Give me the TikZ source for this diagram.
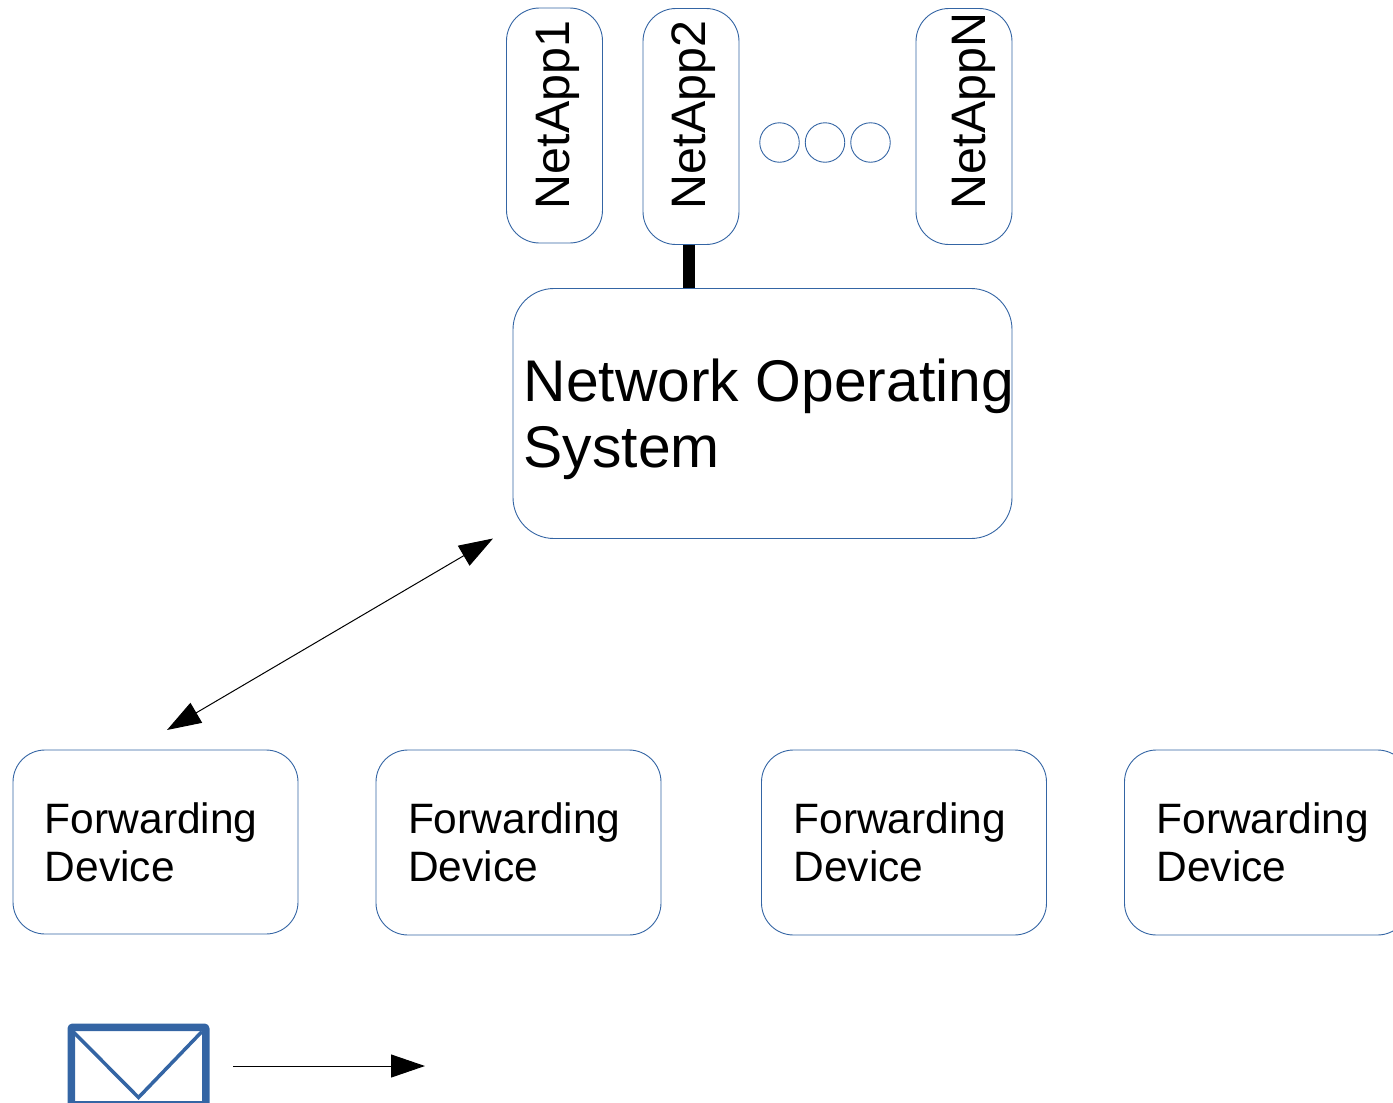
\documentclass[tikz,border=0pt]{standalone}
\usepackage{fontspec}
\setmainfont{Liberation Sans}
\usetikzlibrary{arrows.meta}
\definecolor{boxblue}{HTML}{3465A4}
\tikzset{
  boxbase/.style={draw=boxblue,line width=0.9pt,fill=white,rounded corners=#1,align=left,outer sep=0pt},
  appbox/.style={boxbase=33pt,minimum width=96pt,minimum height=236pt},
  fwdbox/.style={boxbase=32pt,minimum width=285pt,minimum height=185pt,text width=221pt,inner xsep=32pt,font=\fontsize{42.5}{48}\selectfont},
  nosbox/.style={boxbase=41pt,minimum width=499pt,minimum height=250pt},
  nostext/.style={anchor=west,inner sep=0pt,align=left,font=\fontsize{58.8}{66}\selectfont},
  dotcircle/.style={draw=boxblue,line width=0.9pt,circle,minimum size=39.5pt,inner sep=0pt,outer sep=0pt},
  applabel/.style={rotate=90,anchor=base west,inner sep=0pt,font=\fontsize{48.4}{54}\selectfont},
  bigtip/.style={-{Triangle[length=34pt,width=23pt]}},
  bothtip/.style={{Triangle[length=34pt,width=23pt]}-{Triangle[length=34pt,width=23pt]}},
  link/.style={line width=1pt,black},
  envelope/.style={draw=boxblue,line width=7.5pt,line join=round,rounded corners=1pt,minimum width=134.5pt,minimum height=77.5pt},
}
\begin{document}
\begin{tikzpicture}[x=1pt,y=-1pt]
\useasboundingbox (0,0) rectangle (1393,1103);
\clip (0,0) rectangle (1393,1103);
% application boxes
\node[appbox,minimum height=235pt] (app1) at (554.5,125.5) {};
\node[appbox] (app2) at (691,126.5) {};
\node[appbox] (appn) at (964,126.5) {};
\node[applabel] (lab1) at (569,209.5) {NetApp1};
\node[applabel] (lab2) at (705,209.5) {NetApp2};
\node[applabel] (labn) at (985,209.5) {NetAppN};
\node[dotcircle] (d1) at (779.5,142.5) {};
\node[dotcircle] (d2) at (825,142.5) {};
\node[dotcircle] (d3) at (870.5,142.5) {};
% network operating system
\node[nosbox] (nos) at (762.5,413.5) {};
\node[nostext] (nost) at (523.5,419.5) {Network Operating\\System};
\draw[line width=12pt,black] ([xshift=-2pt]app2.south) -- ([xshift=-2pt]app2.south |- nos.north);
\draw[boxblue,line width=0.9pt] (nos.north west) ++(41,0) -- ([xshift=-41pt]nos.north east);
% forwarding devices
\node[fwdbox,minimum height=184pt] (f1) at (155.5,842) {Forwarding\\Device};
\node[fwdbox] (f2) at (518.5,842.5) {Forwarding\\Device};
\node[fwdbox] (f3) at (904,842.5) {Forwarding\\Device};
\node[fwdbox] (f4) at (1267,842.5) {Forwarding\\Device};
\draw[link,bothtip] ([xshift=11.5pt,yshift=20pt]f1.north) -- ([xshift=-20pt]nos.south west);
% packet
\node[envelope] (env) at (138.5,1066) {};
\draw[boxblue,line width=3.5pt,line join=miter] ([xshift=6.5pt,yshift=-9pt]env.north west) -- ([yshift=11pt]env.south) -- ([xshift=-7.5pt,yshift=-8pt]env.north east);
\draw[link,bigtip] ([xshift=23.5pt]env.east) -- ([xshift=215.5pt]env.east);
\end{tikzpicture}
\end{document}
